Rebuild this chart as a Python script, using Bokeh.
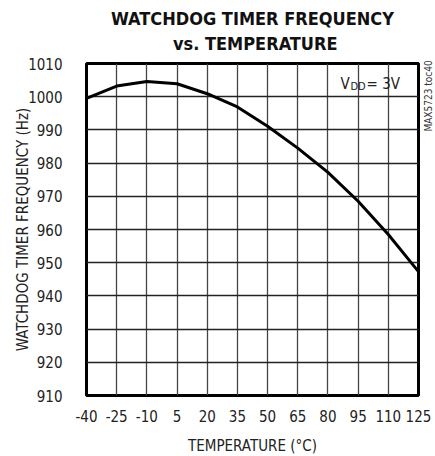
from bokeh.plotting import figure
from bokeh.models import Range1d, FixedTicker, Label, Title, LinearAxis
from bokeh.embed import file_html
from bokeh.resources import INLINE
import math

# data
temperature_c = [-40, -25, -10, 5, 20, 35, 50, 65, 80, 95, 110, 125]
frequency_hz = [999.5, 1003.2, 1004.6, 1003.9, 1000.9, 996.9, 991.1, 984.5, 977.2, 968.5, 958.5, 947.3]
x_ticks = [-40, -25, -10, 5, 20, 35, 50, 65, 80, 95, 110, 125]
x_tick_labels = ["-40", "-25", "-10", "5", "20", "35", "50", "65", "80", "95", "110", "125"]
y_ticks = [910, 920, 930, 940, 950, 960, 970, 980, 990, 1000, 1010]
title_lines = ["WATCHDOG TIMER FREQUENCY", "vs. TEMPERATURE"]
side_code = "MAX5723 toc40"

FONT = "DejaVu Sans Condensed"

p = figure(frame_width=332, frame_height=332, output_backend="svg", toolbar_location=None,
           x_range=Range1d(-40, 125), y_range=Range1d(910, 1010),
           min_border_left=86, min_border_right=17, min_border_top=63, min_border_bottom=52)
p.background_fill_color = "white"
p.border_fill_color = "white"
p.outline_line_color = "black"
p.outline_line_width = 3

for ax in (p.xaxis[0], p.yaxis[0]):
    ax.axis_line_color = None
    ax.major_tick_line_color = None
    ax.minor_tick_line_color = None
    ax.major_label_text_font = FONT
    ax.major_label_text_font_size = "15px"
    ax.major_label_text_color = "#222"
    ax.axis_label_text_font = FONT
    ax.axis_label_text_font_size = "15px"
    ax.axis_label_text_font_style = "normal"
    ax.axis_label_text_color = "#222"

p.xaxis.ticker = FixedTicker(ticks=x_ticks)
p.xaxis.major_label_overrides = dict(zip(x_ticks, x_tick_labels))
p.yaxis.ticker = FixedTicker(ticks=y_ticks)
p.xaxis.major_label_standoff = 8
p.yaxis.major_label_standoff = 18
p.xaxis.axis_label = "TEMPERATURE (°C)"
p.yaxis.axis_label = "WATCHDOG TIMER FREQUENCY (Hz)"
p.xaxis.axis_label_standoff = 12
p.yaxis.axis_label_standoff = -7

p.xgrid.ticker = FixedTicker(ticks=x_ticks)
p.ygrid.ticker = FixedTicker(ticks=y_ticks)
p.xgrid.grid_line_color = "#444"
p.ygrid.grid_line_color = "#222"
p.xgrid.grid_line_width = 1.3
p.ygrid.grid_line_width = 1.3

p.line(temperature_c, frequency_hz, line_color="black", line_width=3, line_join="round")

# two-line title; the lines of a multi-line title are left-aligned, so the
# second line is centred under the first with non-breaking spaces
pad = "\u00a0" * 11
p.add_layout(Title(text=title_lines[0] + "\n" + pad + title_lines[1], align="center",
                   vertical_align="top", text_font=FONT, text_font_style="bold",
                   text_font_size="18px", text_line_height=1.17, text_color="#111",
                   standoff=15), "above")

# side code as a rotated label on a bare right axis
side = LinearAxis(ticker=FixedTicker(ticks=[989.5]), major_label_overrides={989.5: side_code},
                  major_label_orientation=math.pi / 2, axis_line_color=None,
                  major_tick_line_color=None, minor_tick_line_color=None,
                  major_label_text_font=FONT, major_label_text_font_size="10px",
                  major_label_text_color="#333", major_label_standoff=4)
p.add_layout(side, "right")

# V_DD = 3V annotation
p.add_layout(Label(x=86.2, y=1003.7, text="V", text_align="left", text_baseline="alphabetic",
                   text_font=FONT, text_font_size="15px", text_color="#222"))
p.add_layout(Label(x=91.2, y=1003.0, text="DD", text_align="left", text_baseline="alphabetic",
                   text_font=FONT, text_font_size="11px", text_color="#222"))
p.add_layout(Label(x=99.2, y=1003.7, text="= 3V", text_align="left", text_baseline="alphabetic",
                   text_font=FONT, text_font_size="15px", text_color="#222"))

open("out.html", "w").write(file_html(p, INLINE))
